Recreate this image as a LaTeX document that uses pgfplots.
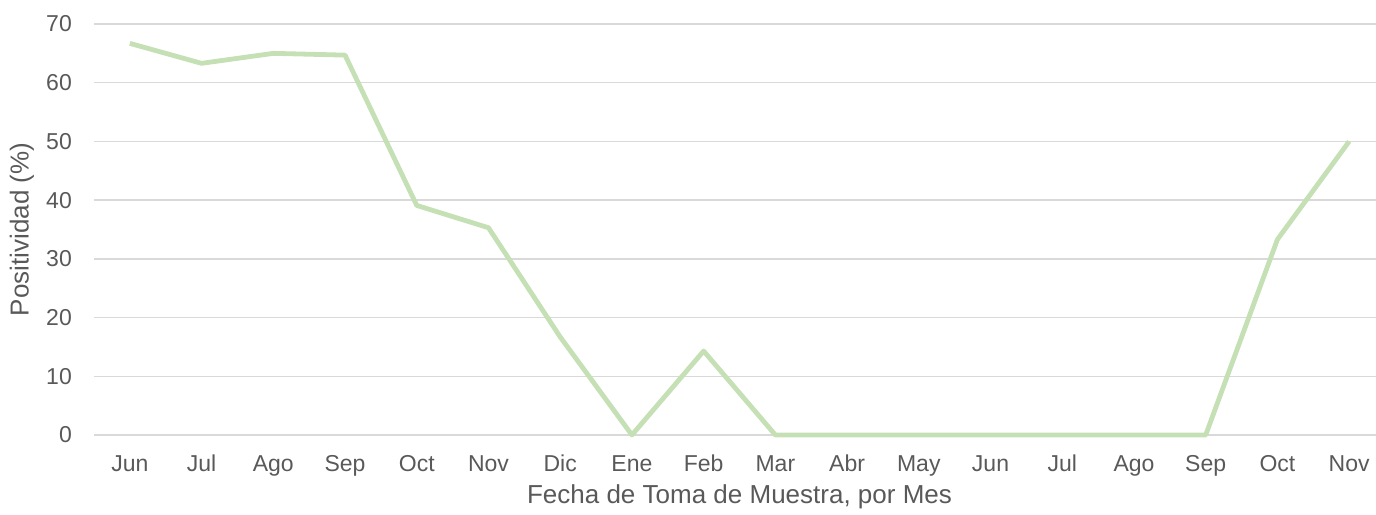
\documentclass[border=0pt]{standalone}
\usepackage{fontspec}
\setmainfont{Liberation Sans}
\usepackage{pgfplots}
\pgfplotsset{compat=1.18}
\definecolor{txt}{HTML}{595959}
\definecolor{gridc}{HTML}{D9D9D9}
\definecolor{linec}{HTML}{C5E0B4}
\begin{document}
\begin{tikzpicture}
\path[use as bounding box] (0,0) rectangle (1376bp,515bp);
\begin{axis}[
  at={(94bp,80bp)}, anchor=south west,
  scale only axis,
  width=1291bp, height=411bp,
  xmin=-0.5, xmax=17.5,
  ymin=0, ymax=70,
  ytick={0,10,...,70},
  xtick={0,...,17},
  xticklabels={Jun,Jul,Ago,Sep,Oct,Nov,Dic,Ene,Feb,Mar,Abr,May,Jun,Jul,Ago,Sep,Oct,Nov},
  axis line style={draw=none},
  major tick length=0pt,
  ymajorgrids,
  grid style={draw=gridc, line width=1.3bp},
  tick label style={font=\fontsize{23bp}{27bp}\selectfont, text=txt},
  /pgf/number format/assume math mode=true,
  yticklabel style={inner sep=0pt, anchor=east, xshift=-22bp},
  xticklabel style={inner sep=0pt, anchor=north, yshift=-20bp},
  label style={font=\fontsize{26bp}{30bp}\selectfont, text=txt},
  xlabel={Fecha de Toma de Muestra, por Mes},
  ylabel={Positividad (\%)},
  xlabel style={at={(axis description cs:0.5,-0.151)}, anchor=center},
  ylabel style={at={(axis description cs:-0.0558,0.5)}, anchor=center},
  clip=false,
]
\addplot[linec, line width=4.8bp, line join=round] coordinates {
(0,66.7) (1,63.3) (2,65.0) (3,64.7) (4,39.1) (5,35.3) (6,16.7) (7,0) (8,14.3)
(9,0) (10,0) (11,0) (12,0) (13,0) (14,0) (15,0) (16,33.3) (17,50.0)
};
\end{axis}
\end{tikzpicture}
\end{document}
